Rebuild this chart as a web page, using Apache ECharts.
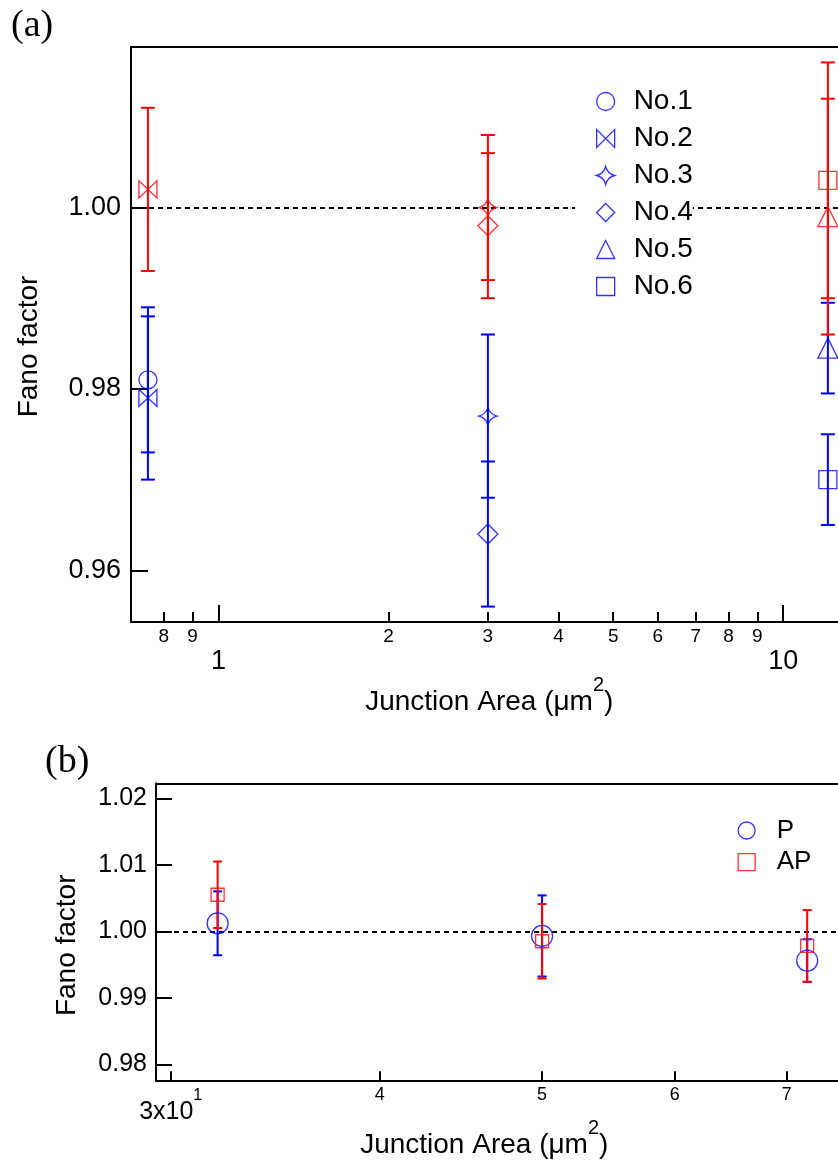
<!DOCTYPE html>
<html>
<head>
<meta charset="utf-8">
<script src="https://cdn.jsdelivr.net/npm/echarts@6/dist/echarts.min.js"></script>
<style>
html,body{margin:0;padding:0;background:#fff;}
#c{width:838px;height:1164px;}
</style>
</head>
<body>
<div id="c"></div>
<script>
// ---------- Panel (a) data ----------
const samples = ['No.1', 'No.2', 'No.3', 'No.4', 'No.5', 'No.6'];
const areaA  = [0.75, 0.75, 3, 3, 12, 12];
const fanoP  = [0.981, 0.979, 0.977, 0.964, 0.9845, 0.970];
const errP   = [0.008, 0.009, 0.009, 0.008, 0.005, 0.005];
const fanoAP = [null, 1.002, 1.000, 0.998, 0.999, 1.003];
const errAP  = [null, 0.009, 0.008, 0.008, 0.013, 0.013];
const yTicksA = [0.96, 0.98, 1.00];
const xMinorTicksA = [0.8, 0.9, 2, 3, 4, 5, 6, 7, 8, 9];
const xMajorTicksA = [1, 10];

// ---------- Panel (b) data ----------
const states  = ['P', 'AP'];
const areaB   = [32, 50, 72];
const fanoBP  = [1.0012, 0.9993, 0.9956];
const errBP   = [0.0048, 0.0061, 0.0032];
const fanoBAP = [1.0055, 0.9985, 0.9978];
const errBAP  = [0.0050, 0.0056, 0.0054];
const yTicksB = [0.98, 0.99, 1.00, 1.01, 1.02];
const xMinorTicksB = [40, 50, 60, 70];
const xMajorTicksB = [30];

const refLine = 1.0;

// ---------- styling ----------
const BLUE = '#0000ff', RED = '#ff0000', BLACK = '#000000';
const SANS = "'Liberation Sans', Arial, Helvetica, sans-serif";
const SERIF = "'Liberation Serif', 'Times New Roman', serif";
const bowtie = 'path://M0,0 L0,10 L10,0 L10,10 Z';
const star4 = 'path://M5,0 Q6,4 10,5 Q6,6 5,10 Q4,6 0,5 Q4,4 5,0 Z';
const symA = ['circle', bowtie, star4, 'diamond', 'triangle', 'rect'];
const sizeA = [18, [18, 17], 18, 20, 20, 18];

function mantissa(v) {
  const p = Math.pow(10, Math.floor(Math.log10(v) + 1e-9));
  return String(Math.round(v / p));
}

function errRenderer(color, capHalf) {
  return function (params, api) {
    const x = api.value(0), y = api.value(1), e = api.value(2);
    const top = api.coord([x, y + e]);
    const bot = api.coord([x, y - e]);
    const style = { stroke: color, lineWidth: 2, fill: null };
    return {
      type: 'group',
      children: [
        { type: 'line', shape: { x1: top[0], y1: top[1], x2: bot[0], y2: bot[1] }, style: style },
        { type: 'line', shape: { x1: top[0] - capHalf, y1: top[1], x2: top[0] + capHalf, y2: top[1] }, style: style },
        { type: 'line', shape: { x1: bot[0] - capHalf, y1: bot[1], x2: bot[0] + capHalf, y2: bot[1] }, style: style }
      ]
    };
  };
}

function errData(xs, ys, es) {
  const out = [];
  for (let i = 0; i < xs.length; i++) {
    if (ys[i] != null) out.push([xs[i], ys[i], es[i]]);
  }
  return out;
}

const hollow = (c) => ({ color: 'rgba(0,0,0,0)', borderColor: c, borderWidth: 1.3 });
const dashLine = {
  silent: true,
  z: 1,
  symbol: ['none', 'none'],
  label: { show: false },
  lineStyle: { color: BLACK, width: 2, type: [5, 4] },
  emphasis: { disabled: true },
  data: [{ yAxis: refLine }]
};

const titleRich = {
  t: { fontSize: 28, fontFamily: SANS, color: BLACK },
  s: { fontSize: 20, fontFamily: SANS, color: BLACK, padding: [0, 0, 34, 0] }
};
const titleText = '{t|Junction Area (μm}{s|2}{t|)}';

const series = [];
// panel (a) error bars
series.push({
  type: 'custom', name: 'errA-P', xAxisIndex: 0, yAxisIndex: 0,
  renderItem: errRenderer(BLUE, 7), data: errData(areaA, fanoP, errP),
  markLine: dashLine, silent: true, z: 2
});
series.push({
  type: 'custom', name: 'errA-AP', xAxisIndex: 0, yAxisIndex: 0,
  renderItem: errRenderer(RED, 7), data: errData(areaA, fanoAP, errAP),
  silent: true, z: 2
});
// panel (a) markers (blue first so legend uses blue)
samples.forEach(function (name, i) {
  series.push({
    type: 'scatter', name: name, xAxisIndex: 0, yAxisIndex: 0,
    symbol: symA[i], symbolSize: sizeA[i],
    itemStyle: hollow(BLUE), emphasis: { disabled: true },
    data: [[areaA[i], fanoP[i]]], z: 3
  });
});
samples.forEach(function (name, i) {
  series.push({
    type: 'scatter', name: name, xAxisIndex: 0, yAxisIndex: 0,
    symbol: symA[i], symbolSize: sizeA[i],
    itemStyle: hollow(RED), emphasis: { disabled: true },
    data: fanoAP[i] == null ? [] : [[areaA[i], fanoAP[i]]], z: 3
  });
});
// panel (b)
series.push({
  type: 'custom', name: 'errB-P', xAxisIndex: 2, yAxisIndex: 1,
  renderItem: errRenderer(BLUE, 4.5), data: errData(areaB, fanoBP, errBP),
  markLine: dashLine, silent: true, z: 2
});
series.push({
  type: 'custom', name: 'errB-AP', xAxisIndex: 2, yAxisIndex: 1,
  renderItem: errRenderer(RED, 4.5), data: errData(areaB, fanoBAP, errBAP),
  silent: true, z: 2
});
series.push({
  type: 'scatter', name: states[0], xAxisIndex: 2, yAxisIndex: 1,
  symbol: 'circle', symbolSize: 21, itemStyle: hollow(BLUE), emphasis: { disabled: true },
  data: areaB.map((x, i) => [x, fanoBP[i]]), z: 3
});
series.push({
  type: 'scatter', name: states[1], xAxisIndex: 2, yAxisIndex: 1,
  symbol: 'rect', symbolSize: 13, itemStyle: hollow(RED), emphasis: { disabled: true },
  data: areaB.map((x, i) => [x, fanoBAP[i]]), z: 3
});

const axisLine = { show: true, onZero: false, lineStyle: { color: BLACK, width: 2 } };
const frameTop = (g, mn, mx) => ({
  gridIndex: g, type: 'log', logBase: 10, min: mn, max: mx, position: 'top',
  axisLine: axisLine, axisTick: { show: false }, axisLabel: { show: false }, splitLine: { show: false }
});

const option = {
  animation: false,
  backgroundColor: '#fff',
  title: [
    { text: '(a)', left: 11, top: 7, padding: 0, textStyle: { fontFamily: SERIF, fontSize: 38, fontWeight: 'normal', color: BLACK } },
    { text: '(b)', left: 45, top: 743, padding: 0, textStyle: { fontFamily: SERIF, fontSize: 38, fontWeight: 'normal', color: BLACK } }
  ],
  grid: [
    { left: 131, top: 47, width: 716.5, height: 575, show: false, outerBoundsMode: 'none', containLabel: false },
    { left: 156, top: 783.3, width: 690.5, height: 297, show: false, outerBoundsMode: 'none', containLabel: false }
  ],
  legend: [
    {
      data: samples, orient: 'vertical', left: 575, top: 82.5, padding: [5, 0, 5, 21], z: 20,
      itemWidth: 18, itemHeight: 18, itemGap: 9, backgroundColor: '#fff', selectedMode: false,
      itemStyle: { borderWidth: 1.3 },
      textStyle: { fontFamily: SANS, fontSize: 28, color: BLACK, padding: [0, 0, 0, 14] }
    },
    {
      data: states, orient: 'vertical', left: 737.5, top: 817.5, padding: 0, z: 20,
      itemWidth: 17, itemHeight: 17, itemGap: 5.7, selectedMode: false,
      itemStyle: { borderWidth: 1.3 },
      textStyle: { fontFamily: SANS, fontSize: 26, color: BLACK, padding: [0, 0, 0, 16.5] }
    }
  ],
  xAxis: [
    { // (a) minor ticks + title
      gridIndex: 0, type: 'log', logBase: 10, min: 0.7, max: 13, position: 'bottom',
      axisLine: axisLine,
      axisTick: { show: true, inside: true, length: 10, customValues: xMinorTicksA, lineStyle: { color: BLACK, width: 2 } },
      axisLabel: { customValues: xMinorTicksA, formatter: mantissa, fontFamily: SANS, fontSize: 19, color: BLACK, margin: 5 },
      splitLine: { show: false }, minorTick: { show: false },
      name: titleText, nameLocation: 'middle', nameGap: 53.7,
      nameTextStyle: { fontFamily: SANS, fontSize: 28, color: BLACK, rich: titleRich }
    },
    { // (a) major ticks
      gridIndex: 0, type: 'log', logBase: 10, min: 0.7, max: 13, position: 'bottom', offset: 0,
      axisLine: { show: false },
      axisTick: { show: true, inside: true, length: 17, customValues: xMajorTicksA, lineStyle: { color: BLACK, width: 2 } },
      axisLabel: { customValues: xMajorTicksA, formatter: (v) => String(Math.round(v)), fontFamily: SANS, fontSize: 27, color: BLACK, margin: 26 },
      splitLine: { show: false }
    },
    { // (b) minor ticks + title
      gridIndex: 1, type: 'log', logBase: 10, min: 29.4, max: 76, position: 'bottom',
      axisLine: axisLine,
      axisTick: { show: true, inside: true, length: 9, customValues: xMinorTicksB, lineStyle: { color: BLACK, width: 2 } },
      axisLabel: { customValues: xMinorTicksB, formatter: mantissa, fontFamily: SANS, fontSize: 18, color: BLACK, margin: 6 },
      splitLine: { show: false },
      name: titleText, nameLocation: 'middle', nameGap: 38,
      nameTextStyle: { fontFamily: SANS, fontSize: 28, color: BLACK, rich: titleRich, padding: [0, 34, 0, 0] }
    },
    { // (b) major tick 3x10^1
      gridIndex: 1, type: 'log', logBase: 10, min: 29.4, max: 76, position: 'bottom', offset: 0,
      axisLine: { show: false },
      axisTick: { show: true, inside: true, length: 9, customValues: xMajorTicksB, lineStyle: { color: BLACK, width: 2 } },
      axisLabel: {
        customValues: xMajorTicksB, margin: 7,
        formatter: function (v) {
          const e = Math.floor(Math.log10(v) + 1e-9);
          return '{b|' + mantissa(v) + 'x10}{s|' + e + '}';
        },
        rich: {
          b: { fontFamily: SANS, fontSize: 25, color: BLACK },
          s: { fontFamily: SANS, fontSize: 16, color: BLACK, padding: [0, 0, 33, 0] }
        }
      },
      splitLine: { show: false }
    },
    frameTop(0, 0.7, 13),
    frameTop(1, 29.4, 76)
  ],
  yAxis: [
    {
      gridIndex: 0, type: 'value', min: 0.9543, max: 1.0177,
      axisLine: axisLine,
      axisTick: { show: true, inside: true, length: 17, customValues: yTicksA, lineStyle: { color: BLACK, width: 2 } },
      axisLabel: { customValues: yTicksA, formatter: (v) => v.toFixed(2), fontFamily: SANS, fontSize: 27, color: BLACK, margin: 10 },
      splitLine: { show: false },
      name: 'Fano factor', nameLocation: 'middle', nameGap: 88,
      nameTextStyle: { fontFamily: SANS, fontSize: 28, color: BLACK, padding: [0, 24, 0, 0] }
    },
    {
      gridIndex: 1, type: 'value', min: 0.97759, max: 1.02226,
      axisLine: axisLine,
      axisTick: { show: true, inside: true, length: 16, customValues: yTicksB, lineStyle: { color: BLACK, width: 2 } },
      axisLabel: { customValues: yTicksB, formatter: (v) => v.toFixed(2), fontFamily: SANS, fontSize: 25, color: BLACK, margin: 9 },
      splitLine: { show: false },
      name: 'Fano factor', nameLocation: 'middle', nameGap: 75,
      nameTextStyle: { fontFamily: SANS, fontSize: 28, color: BLACK, padding: [0, 27, 0, 0] }
    }
  ],
  series: series
};

const chart = echarts.init(document.getElementById('c'), null, { renderer: 'canvas' });
chart.setOption(option);
</script>
</body>
</html>
